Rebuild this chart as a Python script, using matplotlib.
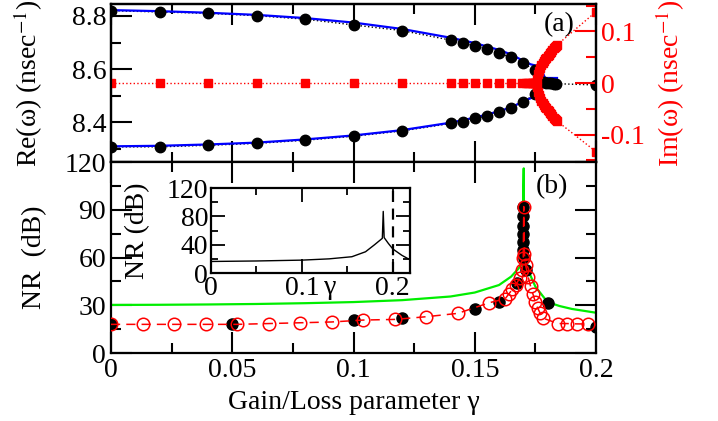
import matplotlib
matplotlib.use('Agg')
import matplotlib.pyplot as plt
from matplotlib.ticker import MultipleLocator

plt.rcParams['font.family'] = ['Liberation Serif', 'DejaVu Serif']
plt.rcParams['mathtext.fontset'] = 'stix'
plt.rcParams['axes.unicode_minus'] = False

# ---------------- data: panel (a) ----------------
re_x = [0, 0.02, 0.04, 0.06, 0.08, 0.10, 0.12, 0.14, 0.145, 0.15, 0.155, 0.16, 0.165, 0.17, 0.175]
re_upper = [8.820, 8.815, 8.810, 8.801, 8.788, 8.766, 8.745, 8.709, 8.699, 8.687, 8.674, 8.659, 8.644, 8.621, 8.596]
re_lower = [8.307, 8.307, 8.313, 8.320, 8.332, 8.347, 8.367, 8.395, 8.401, 8.414, 8.424, 8.439, 8.455, 8.477, 8.506]
re_merged_x = [0.1765, 0.1775, 0.1785, 0.1795, 0.1805, 0.1815, 0.1825, 0.1835, 0.2]
re_merged = [8.555, 8.552, 8.550, 8.548, 8.547, 8.546, 8.545, 8.545, 8.540]

blue_x = [0, 0.02, 0.04, 0.06, 0.08, 0.10, 0.12, 0.14, 0.15, 0.16, 0.165, 0.17, 0.173, 0.1769]
blue_upper = [8.822, 8.818, 8.812, 8.804, 8.792, 8.775, 8.751, 8.718, 8.698, 8.672, 8.655, 8.631, 8.618, 8.609]
blue_lower = [8.309, 8.311, 8.316, 8.323, 8.335, 8.350, 8.370, 8.398, 8.417, 8.441, 8.456, 8.478, 8.490, 8.502]
blue_join_x = [0.1790, 0.1840]
blue_join = [8.566, 8.566]

im_zero_x = [0, 0.02, 0.04, 0.06, 0.08, 0.10, 0.12, 0.14, 0.145, 0.15, 0.155, 0.16, 0.165, 0.1695,
             0.1710, 0.1718, 0.1726, 0.1734, 0.1742, 0.1750]
im_zero = [0] * len(im_zero_x)
im_branch_x = [0.1750, 0.1755, 0.1760, 0.1765, 0.1770, 0.1775, 0.1780, 0.1785, 0.1790, 0.1795,
               0.1800, 0.1805, 0.1810, 0.1815, 0.1820, 0.1825, 0.1830, 0.1835, 0.1840, 0.2]
im_branch_up = [0.000, 0.008, 0.018, 0.024, 0.029, 0.034, 0.038, 0.042, 0.046, 0.049,
                0.052, 0.055, 0.058, 0.061, 0.064, 0.067, 0.069, 0.072, 0.074, 0.138]
im_branch_lo = [0.000, -0.008, -0.018, -0.024, -0.029, -0.034, -0.038, -0.042, -0.046, -0.049,
                -0.052, -0.055, -0.058, -0.061, -0.064, -0.067, -0.069, -0.072, -0.074, -0.133]

# ---------------- data: panel (b) ----------------
green_x = [0, 0.02, 0.04, 0.06, 0.08, 0.10, 0.12, 0.14, 0.15, 0.16, 0.165, 0.168, 0.1695, 0.1702,
           0.1703, 0.171, 0.172, 0.175, 0.18, 0.185, 0.19, 0.2]
green_y = [30.2, 30.3, 30.5, 30.8, 31.3, 32.0, 33.2, 35.5, 38.0, 42.7, 48.0, 53.0, 56.0, 116.0,
           60.0, 57.0, 52.0, 41.7, 32.0, 29.5, 27.7, 25.3]

circ_x = [0, 0.013, 0.026, 0.039, 0.052, 0.065, 0.078, 0.091, 0.104, 0.117, 0.130, 0.143, 0.156,
          0.1625, 0.1640, 0.1655, 0.1670, 0.1685, 0.1695, 0.1700, 0.1702, 0.1705, 0.1710, 0.1720,
          0.1730, 0.1740, 0.1750, 0.1760, 0.1770, 0.1780, 0.1843, 0.1879, 0.1920, 0.1967]
circ_y = [18.0, 18.0, 18.0, 18.0, 18.0, 18.5, 19.0, 19.5, 20.7, 21.1, 22.8, 24.9, 31.6,
          34.0, 37.0, 40.0, 43.0, 47.0, 52.0, 60.0, 92.0, 62.0, 55.0, 48.0,
          42.0, 37.0, 32.0, 28.0, 25.0, 22.0, 18.5, 18.5, 18.3, 18.2]

dot_x = [0, 0.05, 0.10, 0.12, 0.15, 0.16, 0.1675, 0.1700, 0.1700, 0.1700, 0.1700, 0.1700, 0.1700,
         0.1702, 0.1710, 0.18, 0.2]
dot_y = [18.0, 18.0, 20.5, 21.8, 27.6, 32.2, 43.7, 92.0, 86.0, 80.0, 75.0, 70.0, 65.0,
         60.0, 52.0, 31.2, 16.5]

# inset
inset_x = [0, 0.05, 0.10, 0.13, 0.155, 0.17, 0.18, 0.1885, 0.1895, 0.1905, 0.195, 0.20, 0.21, 0.219]
inset_y = [16.3, 17.0, 18.2, 20.0, 23.0, 30.0, 40.0, 49.0, 87.0, 50.0, 42.0, 34.0, 25.0, 18.7]
inset_vline = 0.2

xtick_vals = [0, 0.05, 0.1, 0.15, 0.2]
xtick_labels = ['0', '0.05', '0.1', '0.15', '0.2']

FS = 20
RED = '#ff0000'

fig = plt.figure(figsize=(7.18, 4.21), dpi=100)
ax1 = fig.add_axes([0.1546, 0.6152, 0.6755, 0.3753])
ax1r = ax1.twinx()
ax2 = fig.add_axes([0.1546, 0.1615, 0.6755, 0.4537])
ins = fig.add_axes([0.2939, 0.3515, 0.2772, 0.2019])

for ax in (ax1, ax1r, ax2, ins):
    for s in ax.spines.values():
        s.set_linewidth(1.6)

# ---- panel (a)
ax1.plot(re_x + re_merged_x[:1], re_upper + re_merged[:1], ':', color='black', lw=1.0, zorder=2)
ax1.plot(re_x + re_merged_x[:1], re_lower + re_merged[:1], ':', color='black', lw=1.0, zorder=2)
ax1.plot(re_merged_x, re_merged, ':', color='black', lw=1.0, zorder=2)
ax1.plot(blue_x + blue_join_x[:1], blue_upper + blue_join[:1], '-', color='#0000ff', lw=1.6, zorder=3)
ax1.plot(blue_x + blue_join_x[:1], blue_lower + blue_join[:1], '-', color='#0000ff', lw=1.6, zorder=3)
ax1.plot(blue_join_x, blue_join, '-', color='#0000ff', lw=1.6, zorder=3)
ax1.plot(re_x, re_upper, 'o', color='black', ms=7.5, zorder=4)
ax1.plot(re_x, re_lower, 'o', color='black', ms=7.5, zorder=4)
ax1.plot(re_merged_x, re_merged, 'o', color='black', ms=7.5, zorder=4)
ax1.set_xlim(0, 0.2)
ax1.set_ylim(8.25, 8.845)
ax1.set_yticks([8.4, 8.6, 8.8])
ax1.set_yticklabels(['8.4', '8.6', '8.8'])
ax1.yaxis.set_minor_locator(MultipleLocator(0.1))
ax1.xaxis.set_major_locator(MultipleLocator(0.05))
ax1.xaxis.set_minor_locator(MultipleLocator(0.025))
ax1.tick_params(which='both', direction='in', top=True, right=False, labelbottom=False,
                labelsize=FS, width=1.5)
ax1.tick_params(which='major', length=15)
ax1.tick_params(which='minor', length=7)
ax1.set_ylabel('Re(ω) (nsec$^{-1}$)', fontsize=FS)
ax1.yaxis.set_label_coords(-0.136, 0.5)
ax1.text(0.925, 0.87, '(a)', transform=ax1.transAxes, fontsize=FS, ha='center', va='center')

ax1r.plot(im_zero_x, im_zero, ':', color=RED, lw=1.0, marker='s', ms=6, mec=RED, mfc=RED)
ax1r.plot(im_branch_x, im_branch_up, ':', color=RED, lw=1.0, marker='s', ms=6, mec=RED, mfc=RED)
ax1r.plot(im_branch_x, im_branch_lo, ':', color=RED, lw=1.0, marker='s', ms=6, mec=RED, mfc=RED)
ax1r.set_ylim(-0.153, 0.153)
ax1r.set_yticks([-0.1, 0, 0.1])
ax1r.set_yticklabels(['-0.1', '0', '0.1'])
ax1r.yaxis.set_minor_locator(MultipleLocator(0.05))
ax1r.tick_params(which='both', direction='in', colors=RED, labelsize=FS, width=1.5)
ax1r.tick_params(which='major', length=15)
ax1r.tick_params(which='minor', length=7)
ax1r.spines['right'].set_color('black')
ax1r.set_ylabel('Im(ω) (nsec$^{-1}$)', fontsize=FS, color=RED)
ax1r.yaxis.set_label_coords(1.118, 0.5)

# ---- panel (b)
ax2.plot(green_x, green_y, '-', color='#00ee00', lw=1.6, zorder=2)
ax2.plot(circ_x, circ_y, '--', color=RED, lw=1.1, dashes=(6, 4), marker='o', ms=9,
         mfc='none', mec=RED, mew=1.1, zorder=4)
ax2.plot(dot_x, dot_y, 'o', color='black', ms=8, zorder=3)
ax2.set_xlim(0, 0.2)
ax2.set_ylim(0, 120)
ax2.set_xticks(xtick_vals)
ax2.set_xticklabels(xtick_labels)
ax2.xaxis.set_minor_locator(MultipleLocator(0.025))
ax2.set_yticks([0, 30, 60, 90, 120])
ax2.set_yticklabels(['0', '30', '60', '90', '120'])
ax2.yaxis.set_minor_locator(MultipleLocator(15))
ax2.tick_params(which='both', direction='in', top=True, right=True, labelsize=FS, width=1.5)
ax2.tick_params(which='major', length=15)
ax2.tick_params(which='minor', length=7)
ax2.set_ylabel('NR  (dB)', fontsize=FS)
ax2.yaxis.set_label_coords(-0.131, 0.5)
ax2.set_xlabel('Gain/Loss parameter γ', fontsize=FS)
ax2.xaxis.set_label_coords(0.5, -0.195)
ax2.text(0.91, 0.87, '(b)', transform=ax2.transAxes, fontsize=FS, ha='center', va='center')

# ---- inset
ins.plot(inset_x, inset_y, '-', color='black', lw=1.0)
ins.axvline(inset_vline, color='black', lw=1.6, ls='--', dashes=(5, 3))
ins.set_xlim(0, 0.219)
ins.set_ylim(0, 120)
ins.set_xticks([0, 0.1, 0.2])
ins.set_xticklabels(['0', '0.1', '0.2'])
ins.xaxis.set_minor_locator(MultipleLocator(0.05))
ins.set_yticks([0, 40, 80, 120])
ins.set_yticklabels(['0', '40', '80', '120'])
ins.yaxis.set_minor_locator(MultipleLocator(20))
ins.tick_params(which='both', direction='in', top=True, right=True, labelsize=FS, width=1.3, pad=2)
ins.tick_params(which='major', length=10)
ins.tick_params(which='minor', length=5)
ins.set_ylabel('NR (dB)', fontsize=FS, labelpad=1)
ins.yaxis.set_label_coords(-0.307, 0.5)
ins.text(0.60, -0.17, 'γ', transform=ins.transAxes, fontsize=FS, ha='center', va='center')

fig.savefig('out.png', dpi=100)
